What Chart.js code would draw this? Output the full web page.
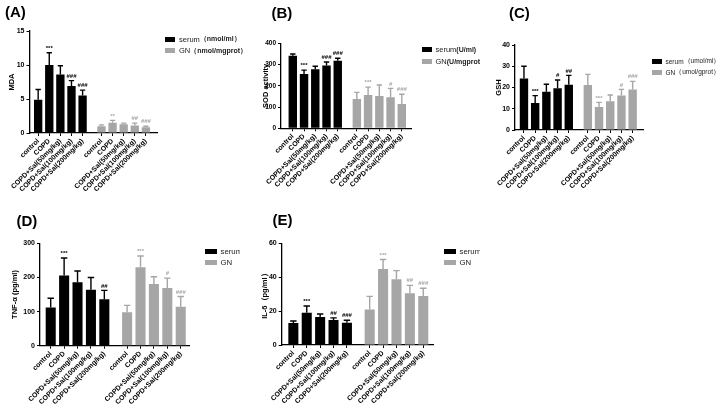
<!DOCTYPE html>
<html>
<head>
<meta charset="utf-8">
<script src="https://cdn.jsdelivr.net/npm/chart.js@4"></script>
<style>
  body { margin: 0; width: 720px; height: 414px; background: #fff; position: relative; overflow: hidden;
         font-family: 'Liberation Sans', Arial, sans-serif; }
  .panel { position: absolute; overflow: hidden; }
  .panel canvas { position: absolute; left: 0; top: 0; }
  .tag { position: absolute; font-weight: bold; font-size: 15px; line-height: 1; color: #000; }
  .legend { position: absolute; color: #222; white-space: nowrap; }
  .legend .row { position: absolute; left: 0; display: flex; align-items: center; height: 8px; }
  .legend .box { display: inline-block; margin-right: 4px; }
</style>
</head>
<body>
<script>
const FONT = "'Liberation Sans', Arial, sans-serif";
const groups = ['control', 'COPD', 'COPD+Sal(50mg/kg)', 'COPD+Sal(100mg/kg)', 'COPD+Sal(200mg/kg)'];
const gnOffset = 5.7;

// (A) MDA
const mdaSerum = [4.9, 10.0, 8.6, 6.9, 5.5];
const mdaSerumSd = [1.5, 1.8, 1.3, 0.8, 0.8];
const mdaGN = [1.0, 1.5, 1.3, 1.1, 0.85];
const mdaGNSd = [0.2, 0.35, 0.15, 0.35, 0.15];
const mdaSerumSig = ['', '***', '', '###', '###'];
const mdaGNSig = ['', '**', '', '##', '###'];

// (B) SOD
const sodSerum = [342, 256, 278, 296, 318];
const sodSerumSd = [8, 18, 14, 16, 12];
const sodGN = [138, 157, 152, 146, 114];
const sodGNSd = [31, 37, 52, 42, 46];
const sodSerumSig = ['', '***', '', '###', '###'];
const sodGNSig = ['', '***', '', '#', '###'];

// (C) GSH
const gshSerum = [24.2, 12.7, 18.0, 19.7, 21.3];
const gshSerumSd = [5.8, 3.5, 3.5, 3.8, 4.4];
const gshGN = [21.2, 10.8, 13.5, 16.2, 19.1];
const gshGNSd = [5.0, 2.2, 3.0, 2.9, 3.8];
const gshSerumSig = ['', '***', '', '#', '##'];
const gshGNSig = ['', '***', '', '#', '###'];

// (D) TNF-a
const tnfSerum = [112, 206, 186, 164, 136];
const tnfSerumSd = [27, 51, 33, 36, 26];
const tnfGN = [98, 230, 181, 169, 114];
const tnfGNSd = [20, 33, 21, 29, 30];
const tnfSerumSig = ['', '***', '', '', '##'];
const tnfGNSig = ['', '***', '', '#', '###'];

// (E) IL-6
const il6Serum = [13.0, 19.1, 16.5, 14.8, 13.2];
const il6SerumSd = [1.2, 3.9, 1.8, 1.2, 1.4];
const il6GN = [21.0, 44.9, 38.8, 30.5, 28.9];
const il6GNSd = [7.7, 5.5, 5.1, 4.7, 4.6];
const il6SerumSig = ['', '***', '', '##', '###'];
const il6GNSig = ['', '***', '', '##', '###'];

const panels = [
  { tag: '(A)', yTitle: 'MDA', yMax: 15, yStep: 5, legend: ['serum', '（nmol/ml）', 'GN', '（nmol/mgprot）'],
    serum: mdaSerum, serumSd: mdaSerumSd, serumSig: mdaSerumSig, gn: mdaGN, gnSd: mdaGNSd, gnSig: mdaGNSig,
    box: [0, 0, 250, 200], area: [29.5, 31, 157, 133], titleX: 12, xMin: -0.78, xMax: 10.7, yTickFont: 7,
    tagAt: [5, 4], legendAt: [165, 39], legendStep: 11.5, legendBox: [10, 5], legendFont: 7.5, unitBold: true },
  { tag: '(B)', yTitle: 'SOD activity', yMax: 400, yStep: 100, legend: ['serum', '(U/ml)', 'GN', '(U/mgprot)'],
    serum: sodSerum, serumSd: sodSerumSd, serumSig: sodSerumSig, gn: sodGN, gnSd: sodGNSd, gnSig: sodGNSig,
    box: [240, 0, 240, 200], area: [281, 43.3, 411.7, 128.3], titleX: 265.5, xMin: -1.05, xMax: 10.58, yTickFont: 6.5,
    tagAt: [271.5, 5], legendAt: [421.5, 49], legendStep: 12, legendBox: [10, 5], legendFont: 7.5, unitBold: true },
  { tag: '(C)', yTitle: 'GSH', yMax: 40, yStep: 10, legend: ['serum', '（umol/ml）', 'GN', '（umol/gprot）'],
    serum: gshSerum, serumSd: gshSerumSd, serumSig: gshSerumSig, gn: gshGN, gnSd: gshGNSd, gnSig: gshGNSig,
    box: [480, 0, 240, 200], area: [515, 45, 643.3, 130], titleX: 499, xMin: -0.8, xMax: 10.65, yTickFont: 7,
    tagAt: [509, 5], legendAt: [651.5, 61], legendStep: 11.7, legendBox: [10, 5], legendFont: 6.5, unitBold: false },
  { tag: '(D)', yTitle: 'TNF-α (pg/ml)', yMax: 300, yStep: 100, legend: ['serum', '', 'GN', ''],
    serum: tnfSerum, serumSd: tnfSerumSd, serumSig: tnfSerumSig, gn: tnfGN, gnSd: tnfGNSd, gnSig: tnfGNSig,
    box: [0, 200, 240, 214], area: [40, 243.3, 189.3, 345.7], titleX: 15, xMin: -0.8, xMax: 10.34, yTickFont: 7,
    tagAt: [16.5, 213], legendAt: [204.5, 251], legendStep: 11.5, legendBox: [12, 5], legendFont: 7.8, unitBold: false },
  { tag: '(E)', yTitle: 'IL-6（pg/ml）', yMax: 60, yStep: 20, legend: ['serum', '', 'GN', ''],
    serum: il6Serum, serumSd: il6SerumSd, serumSig: il6SerumSig, gn: il6GN, gnSd: il6GNSd, gnSig: il6GNSig,
    box: [240, 200, 240, 214], area: [281.7, 243.3, 433.3, 345], titleX: 265, xMin: -0.87, xMax: 10.45, yTickFont: 7,
    tagAt: [272.5, 212], legendAt: [443.5, 251], legendStep: 11.5, legendBox: [12, 5], legendFont: 7.8, unitBold: false }
];

const SERUM_COLOR = '#000000';
const GN_COLOR = '#a6a6a6';
const tickPositions = groups.map((_, i) => i).concat(groups.map((_, i) => i + gnOffset));

// error bars (upper only) and significance marks, placed through the chart scales
const errorBars = {
  id: 'errorBars',
  afterDatasetsDraw(chart) {
    const { ctx } = chart;
    const y = chart.scales.y;
    chart.data.datasets.forEach((ds, di) => {
      const meta = chart.getDatasetMeta(di);
      meta.data.forEach((bar, i) => {
        const top = y.getPixelForValue(ds.data[i].y + ds.sd[i]);
        const half = bar.width * 0.32;
        ctx.save();
        ctx.strokeStyle = ds.backgroundColor;
        ctx.lineWidth = 1.4;
        ctx.beginPath();
        ctx.moveTo(bar.x, bar.y);
        ctx.lineTo(bar.x, top);
        ctx.moveTo(bar.x - half, top);
        ctx.lineTo(bar.x + half, top);
        ctx.stroke();
        if (ds.sig[i]) {
          ctx.fillStyle = ds.backgroundColor;
          ctx.font = 'bold 6px ' + FONT;
          ctx.textAlign = 'center';
          ctx.textBaseline = 'bottom';
          ctx.fillText(ds.sig[i], bar.x, top - 1.5);
        }
        ctx.restore();
      });
    });
  }
};

panels.forEach(p => {
  const [bx, by, bw, bh] = p.box;
  const [al, at, ar, ab] = p.area;

  const div = document.createElement('div');
  div.className = 'panel';
  Object.assign(div.style, { left: bx + 'px', top: by + 'px', width: bw + 'px', height: bh + 'px' });
  document.body.appendChild(div);

  const canvas = document.createElement('canvas');
  canvas.width = bw;
  canvas.height = bh;
  div.appendChild(canvas);

  const tag = document.createElement('div');
  tag.className = 'tag';
  tag.textContent = p.tag;
  tag.style.left = (p.tagAt[0] - bx) + 'px';
  tag.style.top = (p.tagAt[1] - by) + 'px';
  div.appendChild(tag);

  const legend = document.createElement('div');
  legend.className = 'legend';
  legend.style.left = (p.legendAt[0] - bx) + 'px';
  legend.style.top = (p.legendAt[1] - by) + 'px';
  legend.style.fontSize = p.legendFont + 'px';
  const unitStyle = p.unitBold ? 'font-weight:bold;font-size:' + (p.legendFont - 0.5) + 'px' : '';
  [[p.legend[0], p.legend[1], SERUM_COLOR], [p.legend[2], p.legend[3], GN_COLOR]].forEach((item, k) => {
    const row = document.createElement('div');
    row.className = 'row';
    row.style.top = (k * p.legendStep - 4) + 'px';
    row.innerHTML = `<span class="box" style="width:${p.legendBox[0]}px;height:${p.legendBox[1]}px;background:${item[2]}"></span>${item[0]}<span style="${unitStyle}">${item[1]}</span>`;
    legend.appendChild(row);
  });
  div.appendChild(legend);

  const padLeft = p.titleX - 4.5 - bx;
  const yWidth = al - bx - padLeft;
  const xHeight = bh - (ab - by);

  new Chart(canvas, {
    type: 'bar',
    data: {
      datasets: [
        { label: 'serum', data: p.serum.map((v, i) => ({ x: i, y: v })), sd: p.serumSd, sig: p.serumSig,
          backgroundColor: SERUM_COLOR, grouped: false, categoryPercentage: 1, barPercentage: 0.75 },
        { label: 'GN', data: p.gn.map((v, i) => ({ x: i + gnOffset, y: v })), sd: p.gnSd, sig: p.gnSig,
          backgroundColor: GN_COLOR, grouped: false, categoryPercentage: 1, barPercentage: 0.75 }
      ]
    },
    options: {
      responsive: false,
      animation: false,
      devicePixelRatio: 1,
      layout: {
        autoPadding: false,
        padding: { left: padLeft, top: at - by, right: bw - (ar - bx), bottom: 0 }
      },
      plugins: { legend: { display: false }, tooltip: { enabled: false } },
      scales: {
        x: {
          type: 'linear',
          min: p.xMin,
          max: p.xMax,
          offset: false,
          grid: { offset: false, drawOnChartArea: false, tickLength: 3, color: '#000' },
          border: { color: '#000', width: 1.3 },
          ticks: {
            autoSkip: false, minRotation: 45, maxRotation: 45, padding: 1, color: '#000',
            font: { family: FONT, size: 7, weight: 'bold' },
            callback: (v, i) => groups[i % groups.length]
          },
          afterBuildTicks: s => { s.ticks = tickPositions.map(v => ({ value: v })); },
          afterFit: s => { s.height = xHeight; }
        },
        y: {
          min: 0,
          max: p.yMax,
          grid: { drawOnChartArea: false, tickLength: 3, color: '#000' },
          border: { color: '#000', width: 1.3 },
          ticks: { stepSize: p.yStep, padding: 2, color: '#000', font: { family: FONT, size: p.yTickFont, weight: 'bold' } },
          title: { display: true, text: p.yTitle, color: '#000', padding: 0, font: { family: FONT, size: 7.5, weight: 'bold' } },
          afterFit: s => { s.width = yWidth; }
        }
      }
    },
    plugins: [errorBars]
  });
});
</script>
</body>
</html>
